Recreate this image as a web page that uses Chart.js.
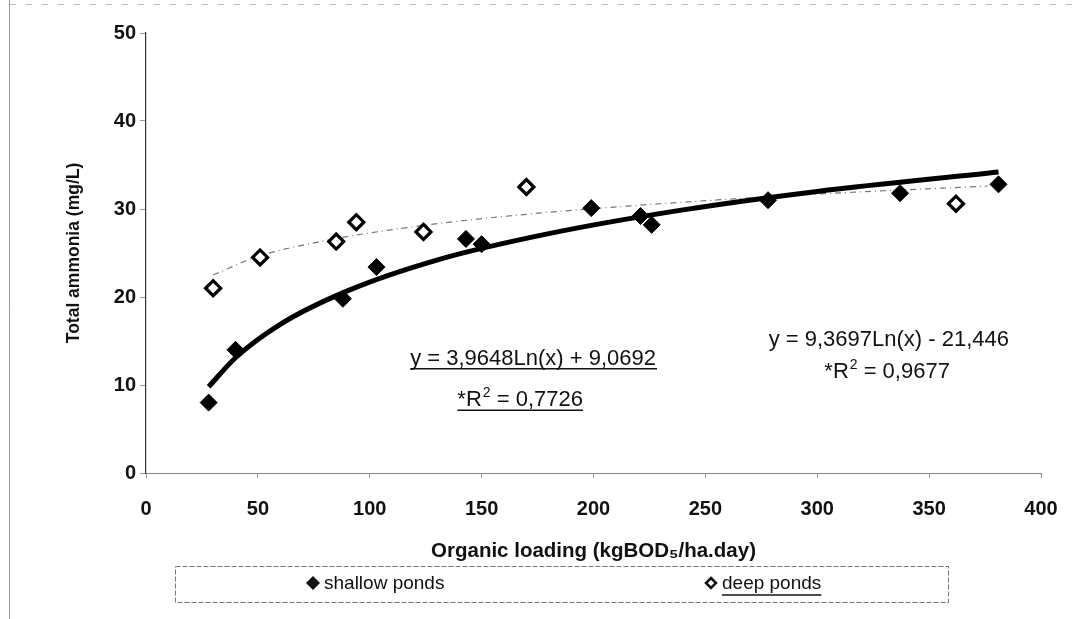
<!DOCTYPE html>
<html>
<head>
<meta charset="utf-8">
<script src="https://cdn.jsdelivr.net/npm/chart.js@4/dist/chart.umd.min.js"></script>
<style>
  html, body { margin: 0; padding: 0; background: #fff; }
  #wrap { width: 1085px; height: 619px; position: relative; }
</style>
</head>
<body>
<div id="wrap"><canvas id="myChart" width="1085" height="619"></canvas></div>
<script>
// Data
var shallowX = [28, 40, 88, 103, 143, 150, 199, 221, 226, 278, 337, 381];
var shallowY = [8.0, 14.0, 19.8, 23.4, 26.6, 26.0, 30.1, 29.2, 28.2, 31.0, 31.8, 32.8];

var deepX = [30, 51, 85, 94, 124, 170, 362];
var deepY = [21.0, 24.5, 26.3, 28.5, 27.4, 32.5, 30.6];

// trend curves
var shallowFitX = [28, 40, 60, 90, 130, 180, 240, 300, 381];
var shallowFitY = [9.8, 13.1, 16.9, 20.7, 24.2, 27.2, 29.9, 32.0, 34.2];
var deepFitX = [30, 50, 80, 120, 170, 230, 300, 376];
var deepFitY = [22.5, 24.6, 26.4, 28.0, 29.4, 30.6, 31.7, 32.6];

var seriesNames = ["shallow ponds", "deep ponds"];
var xTicks = [0, 50, 100, 150, 200, 250, 300, 350, 400];
var yTicks = [0, 10, 20, 30, 40, 50];

var fontFam = "'Liberation Sans', Arial, sans-serif";

function pts(xs, ys) {
  var out = [];
  for (var i = 0; i < xs.length; i++) out.push({x: xs[i], y: ys[i]});
  return out;
}

// equation labels (placed in data units)
var notes = [
  {text: "y = 3,9648Ln(x) + 9,0692", x: 173, y: 13.2, underline: true},
  {text: "*R", sup: "2", rest: " = 0,7726", x: 167, y: 8.5, underline: true},
  {text: "y = 9,3697Ln(x) - 21,446", x: 332, y: 15.3, underline: false},
  {text: "*R", sup: "2", rest: " = 0,9677", x: 331, y: 11.7, underline: false}
];

var notesPlugin = {
  id: "notes",
  afterDraw: function (chart) {
    var ctx = chart.ctx;
    var xs = chart.scales.x, ys = chart.scales.y;
    ctx.save();
    ctx.fillStyle = "#111";
    ctx.strokeStyle = "#111";
    ctx.textBaseline = "alphabetic";
    notes.forEach(function (n) {
      var cx = xs.getPixelForValue(n.x);
      var cy = ys.getPixelForValue(n.y) + 8;
      ctx.font = "22px " + fontFam;
      var w1 = ctx.measureText(n.text).width;
      var w2 = 0, w3 = 0;
      if (n.sup) {
        ctx.font = "14px " + fontFam;
        w2 = ctx.measureText(n.sup).width;
        ctx.font = "22px " + fontFam;
        w3 = ctx.measureText(n.rest).width;
      }
      var total = w1 + w2 + w3;
      var left = cx - total / 2;
      ctx.textAlign = "left";
      ctx.font = "22px " + fontFam;
      ctx.fillText(n.text, left, cy);
      if (n.sup) {
        ctx.font = "14px " + fontFam;
        ctx.fillText(n.sup, left + w1 + 1, cy - 9);
        ctx.font = "22px " + fontFam;
        ctx.fillText(n.rest, left + w1 + w2 + 1, cy);
      }
      if (n.underline) {
        ctx.lineWidth = 1.5;
        ctx.beginPath();
        ctx.moveTo(left, cy + 4);
        ctx.lineTo(left + total + 1, cy + 4);
        ctx.stroke();
      }
    });

    // legend box
    ctx.strokeStyle = "#777";
    ctx.lineWidth = 1;
    ctx.setLineDash([5, 2]);
    ctx.strokeRect(175.5, 566.5, 773, 36);
    ctx.setLineDash([]);

    // legend entries
    ctx.font = "19px " + fontFam;
    ctx.textBaseline = "middle";
    ctx.fillStyle = "#111";
    ctx.beginPath();
    ctx.moveTo(313, 576); ctx.lineTo(320, 583); ctx.lineTo(313, 590); ctx.lineTo(306, 583); ctx.closePath();
    ctx.fill();
    ctx.fillText(seriesNames[0], 324, 584);

    ctx.lineWidth = 2.5;
    ctx.strokeStyle = "#111";
    ctx.beginPath();
    ctx.moveTo(711, 578); ctx.lineTo(716, 583); ctx.lineTo(711, 588); ctx.lineTo(706, 583); ctx.closePath();
    ctx.stroke();
    ctx.fillText(seriesNames[1], 722, 584);
    var dw = ctx.measureText(seriesNames[1]).width;
    ctx.lineWidth = 1.5;
    ctx.beginPath();
    ctx.moveTo(722, 595); ctx.lineTo(722 + dw, 595);
    ctx.stroke();

    // faint outer frame
    ctx.strokeStyle = "#999";
    ctx.lineWidth = 1;
    ctx.beginPath();
    ctx.moveTo(9.5, 0); ctx.lineTo(9.5, 619);
    ctx.stroke();
    ctx.setLineDash([6, 10]);
    ctx.strokeStyle = "#bbb";
    ctx.beginPath();
    ctx.moveTo(10, 4.5); ctx.lineTo(1075, 4.5);
    ctx.stroke();
    ctx.restore();
  }
};

var ctx = document.getElementById("myChart").getContext("2d");
var myChart = new Chart(ctx, {
  type: "scatter",
  data: {
    datasets: [
      {
        label: seriesNames[0],
        data: pts(shallowX, shallowY),
        pointStyle: "rectRot",
        pointRadius: 8.5,
        backgroundColor: "#000",
        borderColor: "#000",
        borderWidth: 1,
        order: 1
      },
      {
        label: seriesNames[1],
        data: pts(deepX, deepY),
        pointStyle: "rectRot",
        pointRadius: 7.5,
        backgroundColor: "#fff",
        borderColor: "#000",
        borderWidth: 3.2,
        order: 0
      },
      {
        label: "shallow fit",
        type: "line",
        data: pts(shallowFitX, shallowFitY),
        borderColor: "#000",
        borderWidth: 5,
        pointRadius: 0,
        cubicInterpolationMode: "monotone",
        fill: false,
        order: 2
      },
      {
        label: "deep fit",
        type: "line",
        data: pts(deepFitX, deepFitY),
        borderColor: "#777",
        borderWidth: 1.2,
        borderDash: [6, 4, 1, 4],
        pointRadius: 0,
        cubicInterpolationMode: "monotone",
        fill: false,
        order: 3
      }
    ]
  },
  options: {
    responsive: false,
    animation: false,
    layout: { padding: { left: 0, right: 44, top: 33, bottom: 0 } },
    plugins: {
      legend: { display: false },
      tooltip: { enabled: false }
    },
    scales: {
      x: {
        type: "linear",
        min: 0,
        max: 400,
        afterBuildTicks: function (scale) {
          scale.ticks = xTicks.map(function (v) { return {value: v}; });
        },
        afterFit: function (scale) { scale.height = 146; },
        ticks: {
          color: "#111",
          padding: 19,
          font: { family: fontFam, size: 20, weight: "bold" }
        },
        grid: { drawOnChartArea: false, drawTicks: true, tickLength: 5, color: "#999" },
        border: { display: true, color: "#888", width: 1, dash: [8, 3] },
        title: {
          display: true,
          text: "Organic loading (kgBOD\u2085/ha.day)",
          color: "#111",
          font: { family: fontFam, size: 20.5, weight: "bold" },
          padding: { top: 0, bottom: 55 }
        }
      },
      y: {
        type: "linear",
        min: 0,
        max: 50,
        afterBuildTicks: function (scale) {
          scale.ticks = yTicks.map(function (v) { return {value: v}; });
        },
        afterFit: function (scale) { scale.width = 146; },
        ticks: {
          color: "#111",
          padding: 4,
          font: { family: fontFam, size: 20, weight: "bold" }
        },
        grid: { drawOnChartArea: false, drawTicks: true, tickLength: 6, color: "#999" },
        border: { display: true, color: "#333", width: 1.2 },
        title: {
          display: true,
          text: "Total ammonia (mg/L)",
          color: "#111",
          font: { family: fontFam, size: 17.5, weight: "bold" },
          padding: { top: 64, bottom: 0 }
        }
      }
    }
  },
  plugins: [notesPlugin]
});
</script>
</body>
</html>
